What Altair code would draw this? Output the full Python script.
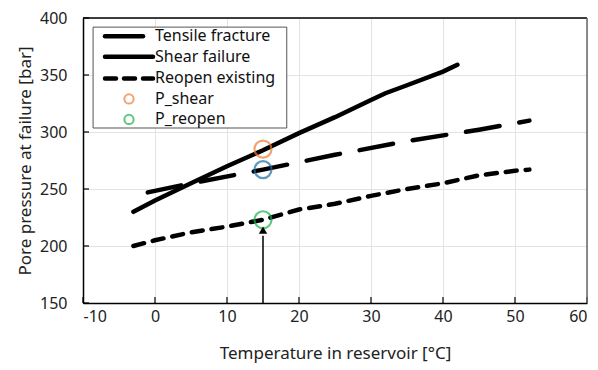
import altair as alt
import pandas as pd

# ---- data ----
shear_x = [-3, 0, 5, 10, 15, 20, 25, 30, 32, 35, 40, 42]
shear_y = [230, 240, 255, 270, 284, 299, 313, 328, 334, 341, 353, 359]

tensile_x = [-1, 5, 15, 25, 35, 45, 52]
tensile_y = [247, 255, 267, 280, 292, 302, 310]

reopen_x = [-3, 0, 5, 10, 15, 20, 25, 30, 35, 40, 45, 50, 52]
reopen_y = [200, 205, 212, 217, 223, 232, 237, 244, 250, 255, 262, 266, 267]

marker_x = [15, 15, 15]
marker_y = [285, 267, 223]
marker_color = ["#ED7D31", "#1F6FA3", "#1DB04B"]

arrow_x = [15]
arrow_y0 = [150]
arrow_y1 = [209]
arrow_tip = [214]

legend_labels = ["Tensile fracture", "Shear failure", "Reopen existing", "P_shear", "P_reopen"]
legend_rows_y = [384, 366, 347, 329, 311]

x_ticks = [-10, 0, 10, 20, 30, 40, 50, 60]
y_ticks = [150, 200, 250, 300, 350, 400]

FONT = "Noto Sans"
LABEL_EXPR = "datum.value < 0 ? '-' + abs(datum.value) : '' + datum.value"

xsc = alt.Scale(domain=[-10, 60], nice=False, zero=False)
ysc = alt.Scale(domain=[150, 400], nice=False, zero=False)

X = lambda f, **kw: alt.X(f, type="quantitative", scale=xsc, **kw)
Y = lambda f, **kw: alt.Y(f, type="quantitative", scale=ysc, **kw)

axis_x = alt.Axis(values=x_ticks, title="Temperature in reservoir [°C]", grid=True,
                  gridColor="#e3e3e3", domainColor="black", domainWidth=1.5,
                  ticks=False, labelPadding=5, titlePadding=21, labelExpr=LABEL_EXPR,
                  labelFontSize=16, titleFontSize=17, labelFont=FONT, titleFont=FONT,
                  titleFontWeight="normal", labelColor="#222", titleColor="#222")
axis_y = alt.Axis(values=y_ticks, title="Pore pressure at failure [bar]", grid=True,
                  gridColor="#e3e3e3", domainColor="black", domainWidth=1.5,
                  ticks=False, labelPadding=16, titlePadding=5, labelExpr=LABEL_EXPR,
                  labelFontSize=16, titleFontSize=17, labelFont=FONT, titleFont=FONT,
                  titleFontWeight="normal", labelColor="#222", titleColor="#222")

df_shear = pd.DataFrame({"x": shear_x, "y": shear_y})
df_tens = pd.DataFrame({"x": tensile_x, "y": tensile_y})
df_reop = pd.DataFrame({"x": reopen_x, "y": reopen_y})
df_mark = pd.DataFrame({"x": marker_x, "y": marker_y, "c": marker_color})

base_axes = alt.Chart(pd.DataFrame({"x": [-10], "y": [150]})).mark_point(opacity=0).encode(
    x=X("x", axis=axis_x), y=Y("y", axis=axis_y))

# inward ticks
xt = alt.Chart(pd.DataFrame({"x": x_ticks})).mark_rule(color="black", strokeWidth=1.2).encode(
    x=X("x"), y=alt.value(285), y2=alt.value(279))
yt = alt.Chart(pd.DataFrame({"y": y_ticks})).mark_rule(color="black", strokeWidth=1.2).encode(
    y=Y("y"), x=alt.value(0), x2=alt.value(6))

shear = alt.Chart(df_shear).mark_line(color="black", strokeWidth=4.5, strokeCap="round").encode(
    x=X("x"), y=Y("y"))
tens = alt.Chart(df_tens).mark_line(color="black", strokeWidth=4.5, strokeCap="round",
                                     strokeDash=[34, 20]).encode(x=X("x"), y=Y("y"))
reop = alt.Chart(df_reop).mark_line(color="black", strokeWidth=4.5, strokeCap="round",
                                     strokeDash=[11, 9]).encode(x=X("x"), y=Y("y"))

marks = alt.Chart(df_mark).mark_point(shape="circle", size=290, strokeWidth=2.2, filled=False).encode(
    x=X("x"), y=Y("y"), color=alt.Color("c:N", scale=None))

df_arrow = pd.DataFrame({"x": arrow_x, "y0": arrow_y0, "y1": arrow_y1, "tip": arrow_tip})
arrow_line = alt.Chart(df_arrow).mark_rule(color="black", strokeWidth=1.5).encode(
    x=X("x"), y=Y("y0"), y2="y1")
arrow_head = alt.Chart(df_arrow).mark_point(shape="triangle-up", size=70, filled=True,
                                            color="black", opacity=1).encode(
    x=X("x"), y=Y("tip"))

# frame top/right
frame = alt.Chart(pd.DataFrame({"a": [0]})).mark_rule(color="black", strokeWidth=1.5).encode(
    x=alt.value(0), x2=alt.value(504), y=alt.value(0))
frame_r = alt.Chart(pd.DataFrame({"a": [0]})).mark_rule(color="#666", strokeWidth=1.5).encode(
    x=alt.value(504), y=alt.value(0), y2=alt.value(285))

# legend
leg_box = alt.Chart(pd.DataFrame({"x": [-8.6], "x2": [18.3], "y": [303.5], "y2": [392]})).mark_rect(
    fill="white", stroke="#555", strokeWidth=1).encode(x=X("x"), x2="x2", y=Y("y"), y2="y2")
df_leg = pd.DataFrame({"label": legend_labels, "y": legend_rows_y})
leg_text = alt.Chart(df_leg).mark_text(align="left", baseline="middle", fontSize=16, font=FONT,
                                       color="#111", dx=0).encode(
    x=alt.value(72), y=Y("y"), text="label:N")
leg_l1 = alt.Chart(df_leg.iloc[[0]]).mark_rule(color="black", strokeWidth=4.5, strokeCap="round").encode(
    x=alt.value(22), x2=alt.value(60), y=Y("y"))
leg_l2 = alt.Chart(df_leg.iloc[[1]]).mark_rule(color="black", strokeWidth=4.5, strokeCap="round").encode(
    x=alt.value(22), x2=alt.value(70), y=Y("y"))
leg_l3 = alt.Chart(df_leg.iloc[[2]]).mark_rule(color="black", strokeWidth=4.5, strokeCap="round",
                                               strokeDash=[11, 8]).encode(
    x=alt.value(22), x2=alt.value(70), y=Y("y"))
df_legc = pd.DataFrame({"y": legend_rows_y[3:], "c": marker_color[0:1] + marker_color[2:3]})
leg_c = alt.Chart(df_legc).mark_point(shape="circle", size=85, strokeWidth=2, filled=False).encode(
    x=alt.value(46), y=Y("y"), color=alt.Color("c:N", scale=None))

chart = alt.layer(base_axes, shear, tens, reop, marks, arrow_line, arrow_head, xt, yt,
                  leg_box, leg_l1, leg_l2, leg_l3, leg_c, leg_text, frame, frame_r).properties(
    width=504, height=285,
    autosize=alt.AutoSizeParams(type="none"),
    padding={"left": 83, "top": 18, "right": 11, "bottom": 67},
    background="white",
).configure_view(stroke=None)

chart.save("out.html", embed_options={"renderer": "svg", "actions": False})
